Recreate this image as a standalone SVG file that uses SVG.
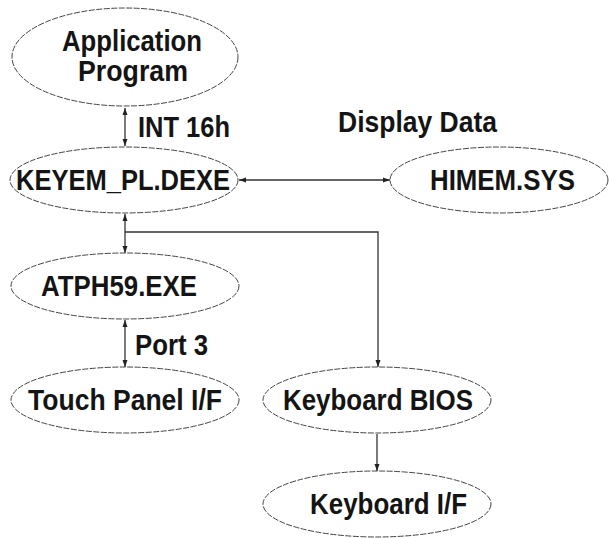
<svg xmlns="http://www.w3.org/2000/svg" width="609" height="538" viewBox="0 0 609 538">
<defs>
<marker id="ah" markerUnits="userSpaceOnUse" markerWidth="8" markerHeight="6" refX="7" refY="3" orient="auto-start-reverse">
<path d="M0,0.5 L7,3 L0,5.5 Z" fill="#222"/>
</marker>
</defs>
<style>
.n{fill:#fff;stroke:#444;stroke-width:1;stroke-dasharray:6 1.5}
.t{font-family:"Liberation Sans",Arial,sans-serif;font-weight:bold;font-size:29px;fill:#141414}
.c{fill:none;stroke:#333;stroke-width:1.3}
</style>
<rect width="609" height="538" fill="#fff"/>
<g id="connectors">
<line class="c" x1="125" y1="108" x2="125" y2="146" marker-start="url(#ah)" marker-end="url(#ah)"/>
<line class="c" x1="239" y1="180" x2="390" y2="180" marker-start="url(#ah)" marker-end="url(#ah)"/>
<line class="c" x1="125" y1="214" x2="125" y2="253" marker-start="url(#ah)" marker-end="url(#ah)"/>
<polyline class="c" points="125,232 378,232 378,367" marker-end="url(#ah)"/>
<line class="c" x1="125" y1="320" x2="125" y2="367" marker-start="url(#ah)" marker-end="url(#ah)"/>
<line class="c" x1="377" y1="434" x2="377" y2="471" marker-end="url(#ah)"/>
<text class="t" x="138" y="137" textLength="92" lengthAdjust="spacingAndGlyphs">INT 16h</text>
<text class="t" x="338" y="132" textLength="159" lengthAdjust="spacingAndGlyphs">Display Data</text>
<text class="t" x="135" y="355" textLength="73" lengthAdjust="spacingAndGlyphs">Port 3</text>
</g>
<g id="app">
<ellipse class="n" cx="125" cy="57" rx="113" ry="49"/>
<text class="t" x="62" y="51" textLength="140" lengthAdjust="spacingAndGlyphs">Application</text>
<text class="t" x="78" y="81" textLength="110" lengthAdjust="spacingAndGlyphs">Program</text>
</g>
<g id="keyem">
<ellipse class="n" cx="124" cy="180" rx="114" ry="33"/>
<text class="t" x="16" y="190" textLength="214" lengthAdjust="spacingAndGlyphs">KEYEM_PL.DEXE</text>
</g>
<g id="himem">
<ellipse class="n" cx="499" cy="180" rx="109" ry="33"/>
<text class="t" x="430" y="190" textLength="145" lengthAdjust="spacingAndGlyphs">HIMEM.SYS</text>
</g>
<g id="atph">
<ellipse class="n" cx="125" cy="286" rx="114" ry="33"/>
<text class="t" x="41" y="296" textLength="156" lengthAdjust="spacingAndGlyphs">ATPH59.EXE</text>
</g>
<g id="touch">
<ellipse class="n" cx="125" cy="400" rx="114" ry="33"/>
<text class="t" x="28" y="410" textLength="194" lengthAdjust="spacingAndGlyphs">Touch Panel I/F</text>
</g>
<g id="kbbios">
<ellipse class="n" cx="377" cy="400" rx="114" ry="33"/>
<text class="t" x="283" y="410" textLength="190" lengthAdjust="spacingAndGlyphs">Keyboard BIOS</text>
</g>
<g id="kbif">
<ellipse class="n" cx="377" cy="504" rx="114" ry="33"/>
<text class="t" x="310" y="514" textLength="157" lengthAdjust="spacingAndGlyphs">Keyboard I/F</text>
</g>
</svg>
